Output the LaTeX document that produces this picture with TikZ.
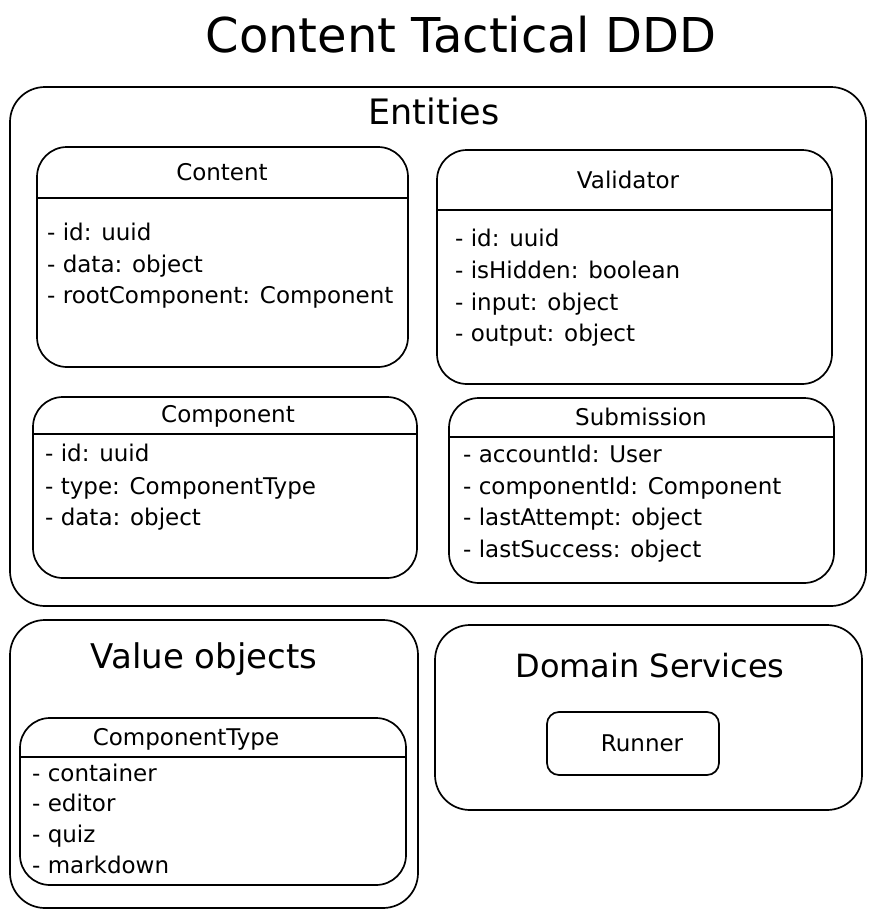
\documentclass[tikz,border=0pt]{standalone}
\usepackage{fontspec}
\setmainfont{DejaVu Sans}
\begin{document}
\begin{tikzpicture}[x=1pt,y=-1pt,
  box/.style={draw, line width=1.7pt, rounded corners=#1, inner sep=0pt},
  box/.default=30pt,
  hline/.style={line width=1.9pt},
  txt/.style={anchor=base west, inner sep=0pt, font=\fontsize{23}{27}\selectfont},
  ttl/.style={anchor=base, inner sep=0pt, font=\fontsize{23}{27}\selectfont},
  sec/.style={anchor=base, inner sep=0pt, font=\fontsize{34}{40}\selectfont}]
\useasboundingbox (0,0) rectangle (878,918);

% main title
\node[anchor=base, inner sep=0pt, font=\fontsize{48}{54}\selectfont] (title) at (461,52) {Content Tactical DDD};

% Entities
\node[box=35pt, minimum width=856pt, minimum height=519pt] (entities) at (438,346.5) {};
\node[sec, font=\fontsize{35}{40}\selectfont] (enttitle) at (434,124) {Entities};

% Content
\node[box, minimum width=371pt, minimum height=220pt] (content) at (222.5,257) {};
\draw[hline] (content.west |- 0,198) -- (content.east |- 0,198);
\node[ttl] (contentT) at (222,180) {Content};
\node[txt] (c1) at (47,240) {- id: uuid};
\node[txt] (c2) at (47,272) {- data: object};
\node[txt] (c3) at (47,303) {- rootComponent: Component};

% Validator
\node[box, minimum width=395pt, minimum height=234pt] (validator) at (634.5,267) {};
\draw[hline] (validator.west |- 0,210) -- (validator.east |- 0,210);
\node[ttl] (validatorT) at (628,188) {Validator};
\node[txt] (v1) at (455,246) {- id: uuid};
\node[txt] (v2) at (455,278) {- isHidden: boolean};
\node[txt] (v3) at (455,310) {- input: object};
\node[txt] (v4) at (455,341) {- output: object};

% Component
\node[box, minimum width=384pt, minimum height=181pt] (component) at (225,487.5) {};
\draw[hline] (component.west |- 0,434) -- (component.east |- 0,434);
\node[ttl] (componentT) at (228,422) {Component};
\node[txt] (m1) at (45,461) {- id: uuid};
\node[txt] (m2) at (45,494) {- type: ComponentType};
\node[txt] (m3) at (45,525) {- data: object};

% Submission
\node[box, minimum width=385pt, minimum height=185pt] (submission) at (641.5,490.5) {};
\draw[hline] (submission.west |- 0,437) -- (submission.east |- 0,437);
\node[ttl] (submissionT) at (641,425) {Submission};
\node[txt] (s1) at (463,462) {- accountId: User};
\node[txt] (s2) at (463,494) {- componentId: Component};
\node[txt] (s3) at (463,525) {- lastAttempt: object};
\node[txt] (s4) at (463,557) {- lastSuccess: object};

% Value objects
\node[box=35pt, minimum width=408pt, minimum height=288pt] (values) at (214,764) {};
\node[sec] (valuesT) at (204,668) {Value objects};
\node[box, minimum width=386pt, minimum height=167pt] (ctype) at (213,801.5) {};
\draw[hline] (ctype.west |- 0,757) -- (ctype.east |- 0,757);
\node[ttl] (ctypeT) at (186,745) {ComponentType};
\node[txt] (t1) at (32,781) {- container};
\node[txt] (t2) at (32,811) {- editor};
\node[txt] (t3) at (32,842) {- quiz};
\node[txt] (t4) at (32,873) {- markdown};

% Domain Services
\node[box=35pt, minimum width=427pt, minimum height=185pt] (services) at (648.5,717.5) {};
\node[sec, font=\fontsize{32}{38}\selectfont] (servicesT) at (650,677) {Domain Services};
\node[box=12pt, minimum width=172pt, minimum height=63pt] (runner) at (633,743.5) {};
\node[ttl] (runnerT) at (642,751) {Runner};
\end{tikzpicture}
\end{document}
